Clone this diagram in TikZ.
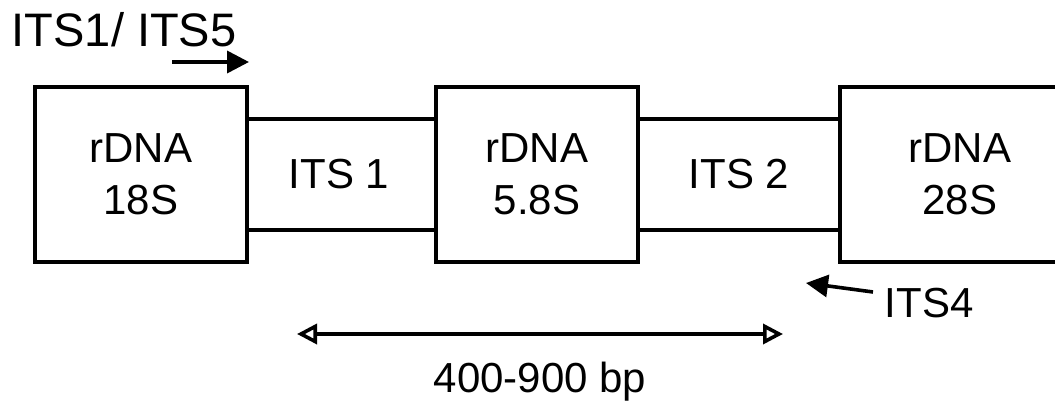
\documentclass[tikz,border=0pt]{standalone}
\usepackage{fontspec}
\setmainfont{Liberation Sans}
\usetikzlibrary{arrows.meta}
\begin{document}
\begin{tikzpicture}[x=1pt,y=-1pt,line width=3.6pt,line join=miter,
  gene/.style={draw,minimum height=175pt,inner sep=0pt,align=center,
    font=\fontsize{42}{52}\selectfont},
  label/.style={inner sep=0pt,font=\fontsize{42}{52}\selectfont},
  primer/.style={-{Triangle[length=22pt,width=22pt]}},
  span/.style={{Triangle[open,length=20pt,width=20pt]}-{Triangle[open,length=20pt,width=20pt]}}]
  \useasboundingbox (0,0) rectangle (1055,401);
  % rDNA blocks
  \node[gene,minimum width=212pt] (s18) at (141,174.5) {rDNA\\18S};
  \node[gene,minimum width=202pt] (s58) at (537,174.5) {rDNA\\5.8S};
  \node[gene,minimum width=240pt] (s28) at (960,174.5) {rDNA\\28S};
  % spacer regions between the blocks
  \draw ([yshift=55.5pt]s18.east) -- ([yshift=55.5pt]s58.west);
  \draw ([yshift=-55.5pt]s18.east) -- ([yshift=-55.5pt]s58.west);
  \draw ([yshift=55.5pt]s58.east) -- ([yshift=55.5pt]s28.west);
  \draw ([yshift=-55.5pt]s58.east) -- ([yshift=-55.5pt]s28.west);
  \node[label] (its1) at (339,174.5) {ITS 1};
  \node[label] (its2) at (739,174.5) {ITS 2};
  % primers
  \node[label,anchor=base west,font=\fontsize{47}{56}\selectfont] (p15) at (10,47) {ITS1/ ITS5};
  \coordinate (f0) at (172,62);
  \coordinate (f1) at (249,62);
  \draw[primer] (f0) -- (f1);
  \node[label,anchor=base west] (p4) at (883,317) {ITS4};
  \coordinate (r0) at (873,292);
  \coordinate (r1) at (806,283);
  \draw[primer] (r0) -- (r1);
  % amplicon length
  \coordinate (a0) at (297,334);
  \coordinate (a1) at (783,334);
  \draw[span] (a0) -- (a1);
  \node[label,anchor=base] (len) at (540,392) {400-900 bp};
\end{tikzpicture}
\end{document}
